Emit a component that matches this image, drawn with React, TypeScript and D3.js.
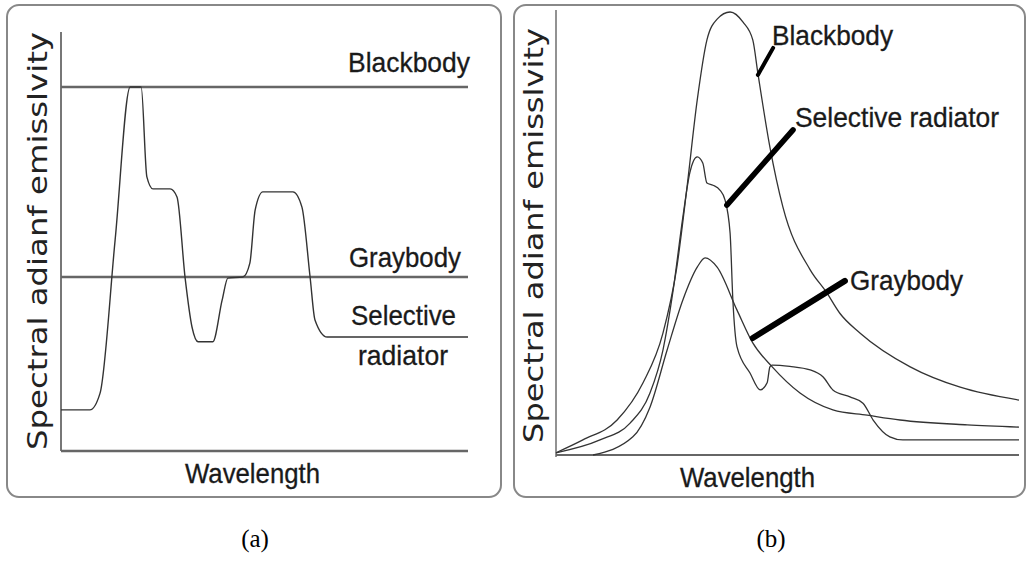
import React from "react";
import * as d3 from "d3";

// ---------- Panel (a) data: wavelength (0-100, arbitrary), emissivity (0-1) ----------
const waveA = [0, 100];
const blackbodyA = [1.0, 1.0];
const graybodyA = [0.478, 0.478];

const selWaveA = [0, 7.1, 9.6, 13.3, 17.0, 19.7, 21.1, 22.6, 26.8, 28.5, 30.5, 32.2, 33.7, 37.3, 39.6, 41.0, 44.7, 46.4, 47.7, 49.6, 57.0, 59.2, 61.2, 62.4, 65.4, 100];
const selValA = [0.113, 0.113, 0.159, 0.58, 1.0, 1.0, 0.753, 0.72, 0.72, 0.698, 0.475, 0.34, 0.30, 0.30, 0.415, 0.475, 0.478, 0.516, 0.662, 0.712, 0.712, 0.67, 0.478, 0.36, 0.313, 0.313];

// ---------- Panel (b) data ----------
const bbWaveB = [0, 5.8, 13.2, 18.8, 23.1, 26.1, 28.3, 30.5, 32.6, 34.8, 37.6, 40.4, 42.5, 43.6, 46.2, 49.0, 54.9, 58.5, 61.3, 65.7, 76.5, 87.3, 100];
const bbValB = [0.005, 0.034, 0.079, 0.163, 0.275, 0.424, 0.605, 0.801, 0.937, 0.984, 1.0, 0.977, 0.937, 0.862, 0.695, 0.56, 0.418, 0.366, 0.32, 0.275, 0.199, 0.153, 0.124];

const selWaveB = [0, 9.5, 16.0, 20.3, 23.1, 25.3, 27.4, 28.9, 30.5, 31.7, 32.6, 33.9, 35.4, 36.5, 37.6, 38.2, 39.1, 41.9, 44.1, 45.6, 46.2, 46.7, 50.5, 54.9, 57.7, 59.8, 63.5, 66.3, 68.5, 72.1, 74.9, 100];
const selValB = [0.005, 0.034, 0.072, 0.14, 0.237, 0.372, 0.537, 0.637, 0.673, 0.659, 0.614, 0.609, 0.598, 0.576, 0.501, 0.35, 0.244, 0.185, 0.147, 0.163, 0.199, 0.203, 0.2, 0.192, 0.176, 0.147, 0.131, 0.117, 0.079, 0.041, 0.034, 0.034];

const gbWaveB = [8.0, 16.6, 20.3, 24.0, 27.4, 30.5, 32.2, 34.8, 39.1, 42.5, 46.7, 52.7, 59.8, 67.2, 74.3, 88.8, 100];
const gbValB = [0, 0.041, 0.108, 0.237, 0.35, 0.424, 0.445, 0.424, 0.327, 0.253, 0.199, 0.14, 0.102, 0.09, 0.079, 0.068, 0.063];

// leader lines for panel (b) labels, in data coords
const leaderNames = ["Blackbody", "Selective radiator", "Graybody"];
const leaderStart = [[46.9, 0.919], [51.2, 0.734], [62.4, 0.393]];
const leaderEnd = [[43.6, 0.858], [36.9, 0.564], [42.5, 0.264]];

const yLabel = "Spectral adianf emisslvity";
const xLabel = "Wavelength";

const labelFont = "'Liberation Sans Narrow', 'Liberation Sans', Arial, sans-serif";
const axisFont = "'DejaVu Sans', Verdana, sans-serif";

function zip(xs: number[], ys: number[]) {
  return xs.map((x, i) => [x, ys[i]] as [number, number]);
}

export default function App() {
  // panel a scales
  const xa = d3.scaleLinear().domain([0, 100]).range([61, 468]);
  const ya = d3.scaleLinear().domain([0, 1]).range([451, 87]);
  // panel b scales
  const xb = d3.scaleLinear().domain([0, 100]).range([556, 1019]);
  const yb = d3.scaleLinear().domain([0, 1]).range([455, 12]);

  const lineA = d3.line<[number, number]>().x(d => xa(d[0])).y(d => ya(d[1])).curve(d3.curveMonotoneX);
  const lineAstraight = d3.line<[number, number]>().x(d => xa(d[0])).y(d => ya(d[1]));
  const lineB = d3.line<[number, number]>().x(d => xb(d[0])).y(d => yb(d[1])).curve(d3.curveMonotoneX);

  const curveColor = "#333";
  const levelColor = "#666";
  const axisColor = "#777";
  const leaderW = [4, 5.5, 6];
  const tp = { fontFamily: labelFont, fontSize: 28, fill: "#1a1a1a", stroke: "#1a1a1a", strokeWidth: 0.3, lengthAdjust: "spacingAndGlyphs" as const };

  return (
    <svg width={1027} height={566} style={{ position: "absolute", left: 0, top: 0, background: "#fff" }}>
      {/* panel frames */}
      <rect x={7} y={5} width={494} height={492} rx={12} fill="none" stroke="#888" strokeWidth={2} />
      <rect x={514} y={5} width={511} height={492} rx={12} fill="none" stroke="#888" strokeWidth={2} />

      {/* ---------- Panel (a) ---------- */}
      <line x1={xa(0)} x2={xa(0)} y1={32} y2={ya(0)} stroke={axisColor} strokeWidth={2} />
      <line x1={xa(0)} x2={xa(100)} y1={ya(0)} y2={ya(0)} stroke={levelColor} strokeWidth={2.5} />
      <path d={lineAstraight(zip(waveA, blackbodyA)) || ""} fill="none" stroke={levelColor} strokeWidth={2.5} />
      <path d={lineAstraight(zip(waveA, graybodyA)) || ""} fill="none" stroke={levelColor} strokeWidth={2.5} />
      <path d={lineA(zip(selWaveA, selValA)) || ""} fill="none" stroke={curveColor} strokeWidth={1.4} />

      <text x={348} y={72} textLength={122} {...tp}>Blackbody</text>
      <text x={349} y={267} textLength={112} {...tp}>Graybody</text>
      <text x={351} y={325} textLength={105} {...tp}>Selective</text>
      <text x={358} y={365} textLength={90} {...tp}>radiator</text>
      <text x={185} y={483} textLength={135} {...tp}>{xLabel}</text>
      <text transform="translate(47,450) rotate(-90)" x={0} y={0} fontFamily={axisFont} fontSize={27} textLength={418} lengthAdjust="spacingAndGlyphs" fill="#222">{yLabel}</text>

      {/* ---------- Panel (b) ---------- */}
      <line x1={xb(0)} x2={xb(0)} y1={10} y2={457} stroke={axisColor} strokeWidth={1.6} />
      <line x1={xb(0)} x2={xb(100)} y1={yb(0)} y2={yb(0)} stroke={levelColor} strokeWidth={2} />
      <path d={lineB(zip(bbWaveB, bbValB)) || ""} fill="none" stroke={curveColor} strokeWidth={1.3} />
      <path d={lineB(zip(selWaveB, selValB)) || ""} fill="none" stroke={curveColor} strokeWidth={1.3} />
      <path d={lineB(zip(gbWaveB, gbValB)) || ""} fill="none" stroke={curveColor} strokeWidth={1.3} />

      {leaderNames.map((n, i) => (
        <line key={n} x1={xb(leaderStart[i][0])} y1={yb(leaderStart[i][1])} x2={xb(leaderEnd[i][0])} y2={yb(leaderEnd[i][1])}
          stroke="#000" strokeWidth={leaderW[i]} strokeLinecap="round" />
      ))}

      <text x={772} y={45} textLength={121} {...tp}>Blackbody</text>
      <text x={795} y={127} textLength={204} {...tp}>Selective radiator</text>
      <text x={850} y={290} textLength={113} {...tp}>Graybody</text>
      <text x={680} y={487} textLength={135} {...tp}>{xLabel}</text>
      <text transform="translate(543,443) rotate(-90)" x={0} y={0} fontFamily={axisFont} fontSize={27} textLength={415} lengthAdjust="spacingAndGlyphs" fill="#222">{yLabel}</text>

      {/* captions */}
      <text x={255} y={547} textAnchor="middle" fontFamily="'Liberation Serif', 'Times New Roman', serif" fontSize={25} fill="#000">(a)</text>
      <text x={771} y={547} textAnchor="middle" fontFamily="'Liberation Serif', 'Times New Roman', serif" fontSize={25} fill="#000">(b)</text>
    </svg>
  );
}
